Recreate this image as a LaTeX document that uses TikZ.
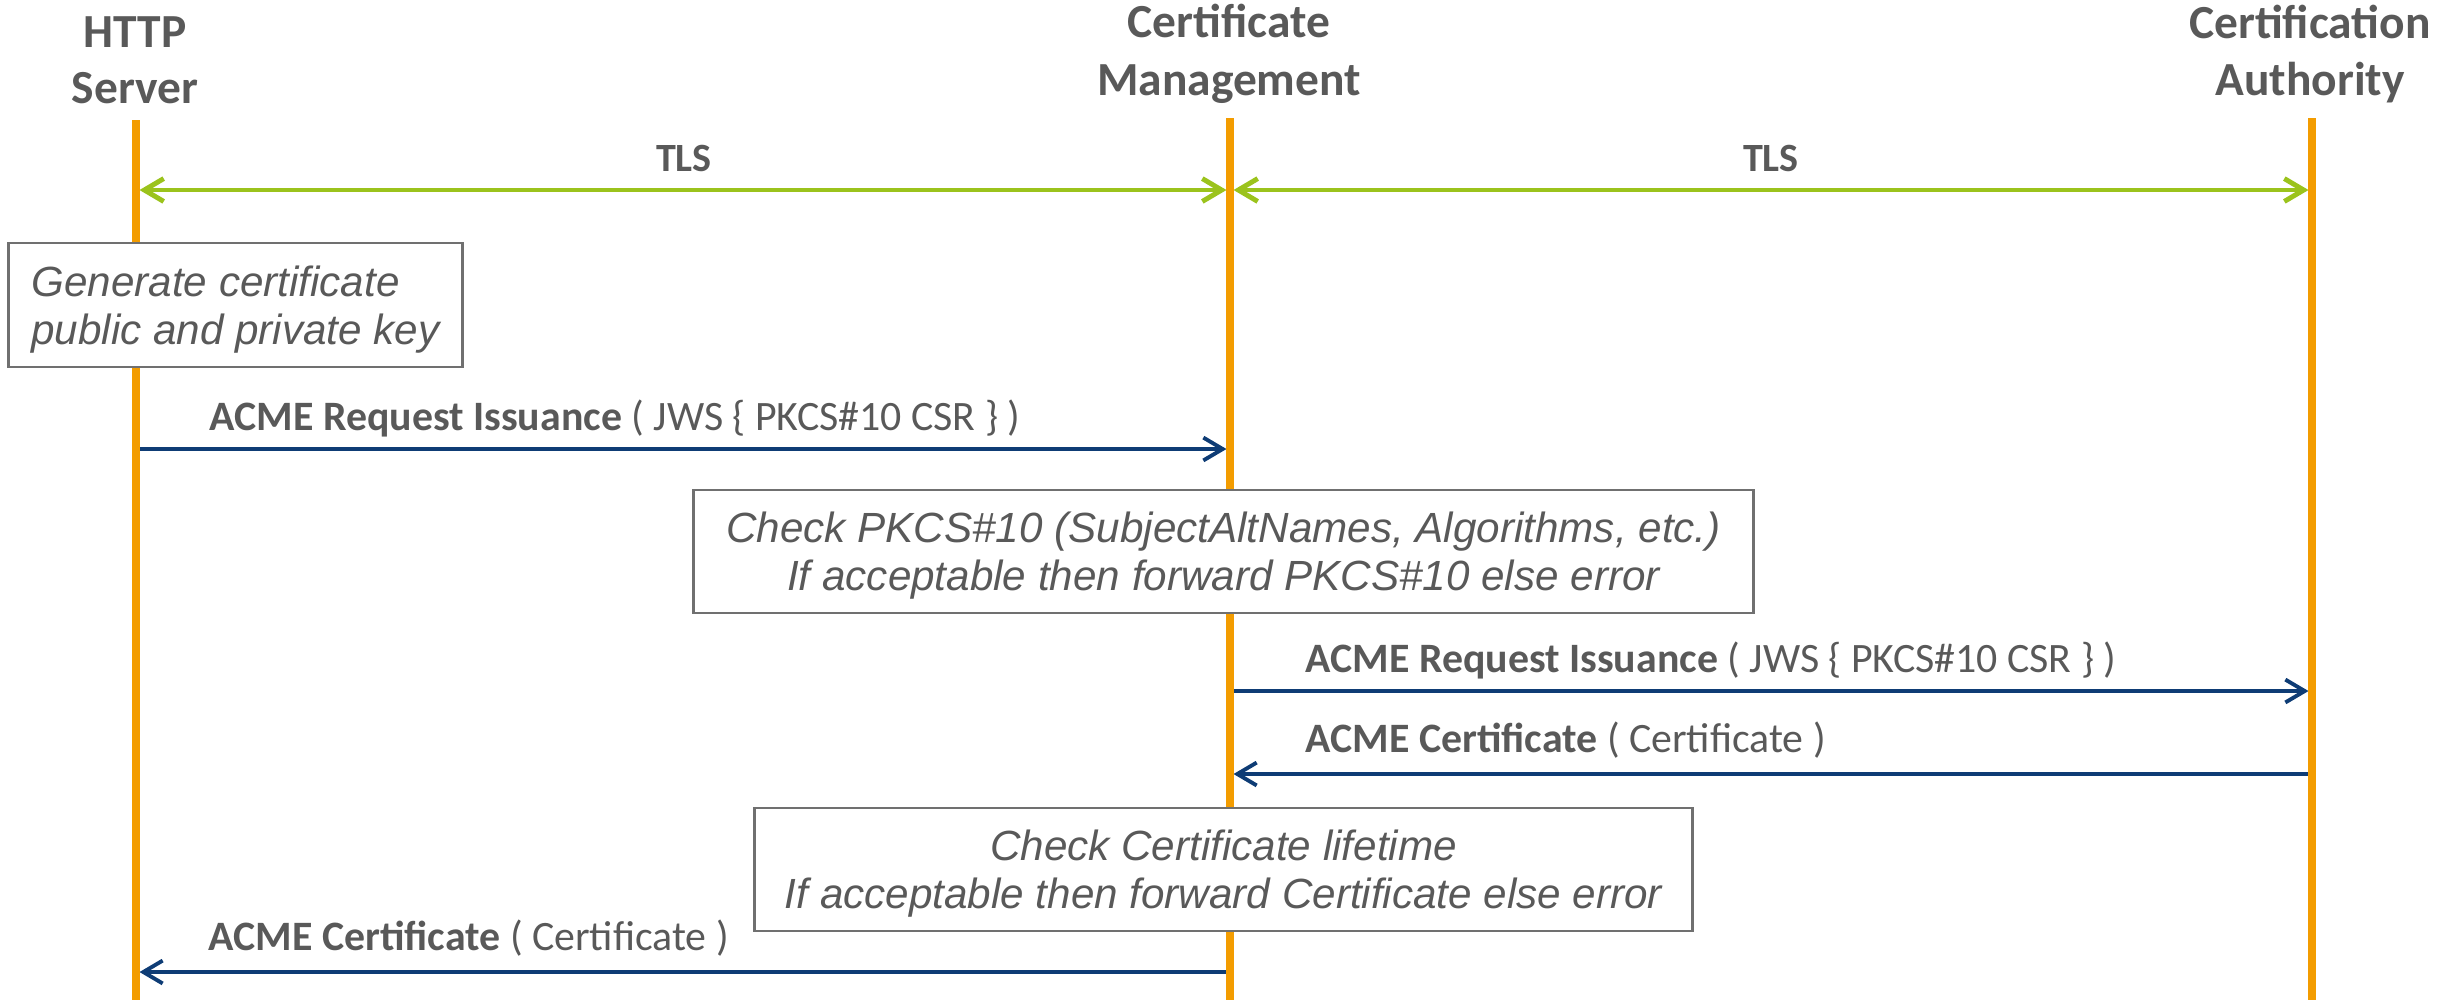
\documentclass[tikz,border=0pt]{standalone}
\usepackage{fontspec}
\setmainfont{Carlito}
\newfontfamily\notefont{Liberation Sans}
\usetikzlibrary{arrows.meta}

\definecolor{lifeorange}{HTML}{F39C00}
\definecolor{tlsgreen}{HTML}{9BC31C}
\definecolor{msgblue}{HTML}{0E3C75}
\definecolor{txtgray}{HTML}{595959}
\definecolor{boxgray}{HTML}{707070}

% struts that fix the height of the first and the depth of the last line of a note
\newcommand\notetop{\rule{0pt}{11.1pt}}
\newcommand\notebot{\rule[-2.56pt]{0pt}{2.56pt}}

\begin{document}
\begin{tikzpicture}[x=0.01cm, y=-0.01cm,
  head/.style={font=\fontsize{13.5}{16}\selectfont\bfseries, text=txtgray, anchor=base, inner sep=0pt},
  lifeline/.style={draw=lifeorange, line width=2.3pt},
  tls/.style={draw=tlsgreen, line width=1.4pt, {Straight Barb[length=5.5pt,width=6.5pt]}-{Straight Barb[length=5.5pt,width=6.5pt]}, shorten <=1pt, shorten >=1pt},
  tlslabel/.style={font=\fontsize{11.4}{13}\selectfont\bfseries, text=txtgray, inner sep=0pt},
  msg/.style={draw=msgblue, line width=1.1pt, -{Straight Barb[length=5.5pt,width=6.5pt]}, shorten >=1pt},
  msglabel/.style={font=\fontsize{11.9}{13}\selectfont, text=txtgray, anchor=base west, inner sep=0pt},
  note/.style={draw=boxgray, line width=0.8pt, fill=white, text=txtgray, inner sep=0pt,
    font=\notefont\itshape\fontsize{12}{13.66}\selectfont},
]
\useasboundingbox (0,0) rectangle (2458,1002);

% participants
\node[head] (hs-a) at (135,47) {HTTP};
\node[head] (hs-b) at (135,103) {Server};
\node[head] (cm-a) at (1229,37) {Certificate};
\node[head] (cm-b) at (1229,95) {Management};
\node[head] (ca-a) at (2310,38) {Certification};
\node[head] (ca-b) at (2310,95) {Authority};

% lifeline end points
\coordinate (hs-top) at (136,120);
\coordinate (hs-bot) at (136,1000);
\coordinate (cm-top) at (1230,118);
\coordinate (cm-bot) at (1230,1000);
\coordinate (ca-top) at (2312,118);
\coordinate (ca-bot) at (2312,1000);

% message levels on each lifeline
\coordinate (hs-tls) at (136,190);
\coordinate (cm-tls) at (1230,190);
\coordinate (ca-tls) at (2312,190);
\coordinate (hs-m1) at (136,449);
\coordinate (cm-m1) at (1230,449);
\coordinate (cm-m2) at (1230,691);
\coordinate (ca-m2) at (2312,691);
\coordinate (ca-m3) at (2312,774);
\coordinate (cm-m3) at (1230,774);
\coordinate (cm-m4) at (1230,972);
\coordinate (hs-m4) at (136,972);

% secure channels
\draw[tls] (hs-tls) -- (cm-tls);
\draw[tls] (cm-tls) -- (ca-tls);
\node[tlslabel] (tls1) at (684,158) {TLS};
\node[tlslabel] (tls2) at (1771,158) {TLS};

% messages
\draw[msg] (hs-m1) -- (cm-m1);
\draw[msg] (cm-m2) -- (ca-m2);
\draw[msg] (ca-m3) -- (cm-m3);
\draw[msg] (cm-m4) -- (hs-m4);

% lifelines
\draw[lifeline] (hs-top) -- (hs-bot);
\draw[lifeline] (cm-top) -- (cm-bot);
\draw[lifeline] (ca-top) -- (ca-bot);

% message labels
\node[msglabel] (l1) at (209,430) {\textbf{ACME Request Issuance} ( JWS \{ PKCS\#10 CSR \} )};
\node[msglabel] (l2) at (1305,672) {\textbf{ACME Request Issuance} ( JWS \{ PKCS\#10 CSR \} )};
\node[msglabel] (l3) at (1305,752) {\textbf{ACME Certificate} ( Certificate )};
\node[msglabel] (l4) at (208,950) {\textbf{ACME Certificate} ( Certificate )};

% processing notes
\node[note, minimum width=4.53cm, minimum height=1.24cm, align=left] (gen) at (235.5,305)
  {\notetop Generate certificate\\public and private key\notebot};
\node[note, minimum width=10.59cm, minimum height=1.23cm, align=center] (chk) at (1223.5,551.5)
  {\notetop Check PKCS\#10 (SubjectAltNames, Algorithms, etc.)\\If acceptable then forward PKCS\#10 else error\notebot};
\node[note, minimum width=9.37cm, minimum height=1.23cm, align=center] (life) at (1223.5,869.5)
  {\notetop Check Certificate lifetime\\If acceptable then forward Certificate else error\notebot};
\end{tikzpicture}
\end{document}
